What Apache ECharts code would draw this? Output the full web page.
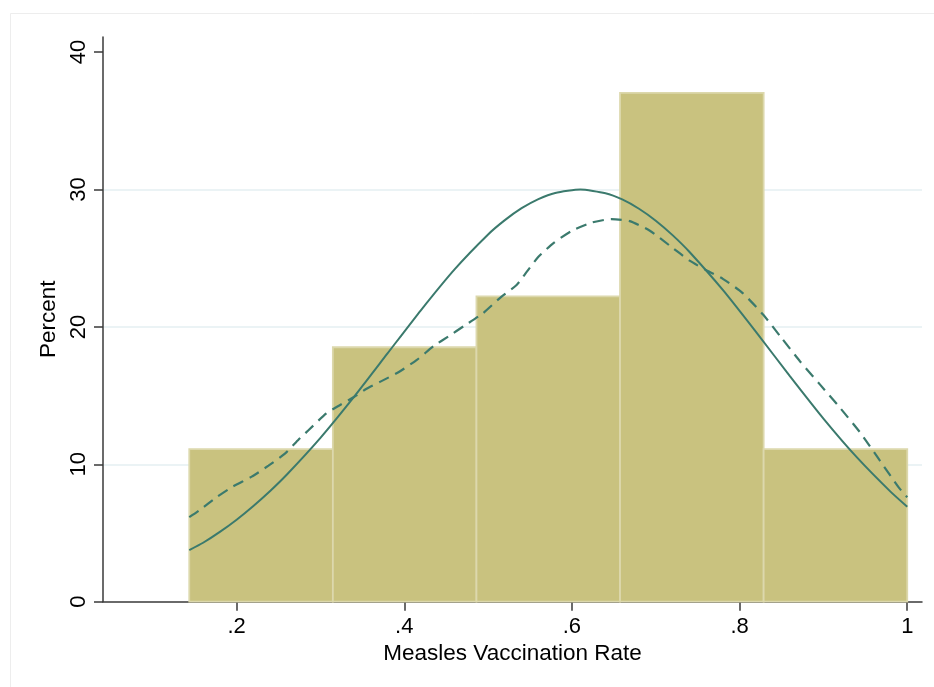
<!DOCTYPE html>
<html>
<head>
<meta charset="utf-8">
<script src="https://cdn.jsdelivr.net/npm/echarts@6/dist/echarts.min.js"></script>
<style>
html,body{margin:0;padding:0;background:#fff;}
#chart{width:934px;height:687px;}
</style>
</head>
<body>
<div id="chart"></div>
<script>
// Histogram bins (edges) and percent per bin
var binEdges = [0.1435, 0.3148, 0.4861, 0.6574, 0.8287, 1.0];
var binPercent = [11.11, 18.52, 22.22, 37.04, 11.11];

// Normal density overlay
var normX = [0.1435, 0.16, 0.18, 0.20, 0.22, 0.24, 0.26, 0.30, 0.34, 0.38, 0.42, 0.46, 0.50, 0.52, 0.54, 0.56, 0.58, 0.61, 0.64, 0.66, 0.68, 0.70, 0.72, 0.74, 0.78, 0.82, 0.86, 0.90, 0.94, 0.98, 1.00];
var normY = [3.76, 4.29, 5.08, 5.97, 6.97, 8.06, 9.26, 11.93, 14.91, 18.07, 21.23, 24.19, 26.73, 27.77, 28.64, 29.30, 29.75, 30.0, 29.73, 29.28, 28.60, 27.73, 26.68, 25.47, 22.69, 19.60, 16.42, 13.33, 10.50, 8.01, 6.91];

// Kernel density overlay (dashed)
var kdeX = [0.1435, 0.156, 0.176, 0.196, 0.218, 0.238, 0.258, 0.274, 0.286, 0.307, 0.323, 0.340, 0.355, 0.371, 0.393, 0.415, 0.435, 0.4525, 0.472, 0.494, 0.514, 0.534, 0.546, 0.560, 0.578, 0.600, 0.624, 0.647, 0.669, 0.693, 0.717, 0.741, 0.761, 0.780, 0.803, 0.828, 0.850, 0.872, 0.896, 0.920, 0.944, 0.967, 0.990, 1.000];
var kdeY = [6.15, 6.67, 7.6, 8.4, 9.1, 9.9, 10.8, 11.8, 12.5, 13.7, 14.3, 14.9, 15.5, 16.0, 16.7, 17.6, 18.6, 19.3, 20.1, 21.0, 22.1, 23.05, 24.0, 25.1, 26.1, 27.0, 27.6, 27.85, 27.7, 27.0, 25.9, 24.8, 24.1, 23.5, 22.5, 20.9, 19.2, 17.5, 15.8, 14.1, 12.3, 10.3, 8.3, 7.6];

// Axis ticks
var xTicks = [0.2, 0.4, 0.6, 0.8, 1];
var yTicks = [0, 10, 20, 30, 40];

var barData = binPercent.map(function (p, i) { return [binEdges[i], binEdges[i + 1], p]; });
var normData = normX.map(function (x, i) { return [x, normY[i]]; });
var kdeData = kdeX.map(function (x, i) { return [x, kdeY[i]]; });

var FONT = "'Liberation Sans', Arial, Helvetica, sans-serif";
var lineColor = '#3b7a6d';

var chart = echarts.init(document.getElementById('chart'), null, {renderer: 'canvas'});
chart.setOption({
  animation: false,
  backgroundColor: '#ffffff',
  graphic: [{
    type: 'rect',
    silent: true,
    shape: {x: 10.5, y: 13.5, width: 940, height: 700},
    style: {fill: 'none', stroke: '#ededed', lineWidth: 1},
    z: -10
  }],
  grid: {left: 103, right: 12, top: 37, bottom: 85.3, containLabel: false},
  xAxis: {
    type: 'value',
    min: 0.0406,
    max: 1.0176,
    name: 'Measles Vaccination Rate',
    nameLocation: 'middle',
    nameGap: 39,
    nameTextStyle: {fontFamily: FONT, fontSize: 22.5, color: '#000'},
    axisLine: {show: true, onZero: false, lineStyle: {color: '#3a3a3a', width: 1.5}},
    axisTick: {show: true, length: 9, customValues: xTicks, lineStyle: {color: '#3a3a3a', width: 1.5}},
    axisLabel: {
      customValues: xTicks,
      margin: 14,
      fontFamily: FONT, fontSize: 22, color: '#000',
      formatter: function (v) { var s = String(+v.toFixed(2)); return s.indexOf('0.') === 0 ? s.slice(1) : s; }
    },
    splitLine: {show: false}
  },
  yAxis: {
    type: 'value',
    min: 0,
    max: 41.1,
    interval: 10,
    name: 'Percent',
    nameLocation: 'middle',
    nameGap: 42,
    nameTextStyle: {fontFamily: FONT, fontSize: 22.5, color: '#000'},
    axisLine: {show: true, lineStyle: {color: '#3a3a3a', width: 1.5}},
    axisTick: {show: true, length: 9, customValues: yTicks, lineStyle: {color: '#3a3a3a', width: 1.5}},
    axisLabel: {
      customValues: yTicks,
      rotate: 90,
      margin: 13,
      fontFamily: FONT, fontSize: 22, color: '#000'
    },
    splitLine: {show: true, showMinLine: false, showMaxLine: false, lineStyle: {color: '#e5eff2', width: 1.5}}
  },
  series: [
    {
      type: 'custom',
      z: 2,
      data: barData,
      encode: {x: [0, 1], y: 2},
      renderItem: function (params, api) {
        var p0 = api.coord([api.value(0), api.value(2)]);
        var p1 = api.coord([api.value(1), 0]);
        return {
          type: 'rect',
          shape: {x: p0[0], y: p0[1], width: p1[0] - p0[0], height: p1[1] - p0[1]},
          style: {fill: '#c9c27f', stroke: '#dcd8ac', lineWidth: 1.8}
        };
      }
    },
    {
      type: 'line',
      z: 3,
      data: normData,
      smooth: 0.2,
      symbol: 'none',
      lineStyle: {color: lineColor, width: 2}
    },
    {
      type: 'line',
      z: 3,
      data: kdeData,
      smooth: 0.2,
      symbol: 'none',
      lineStyle: {color: lineColor, width: 2.2, type: [11, 7]}
    }
  ]
});
</script>
</body>
</html>
